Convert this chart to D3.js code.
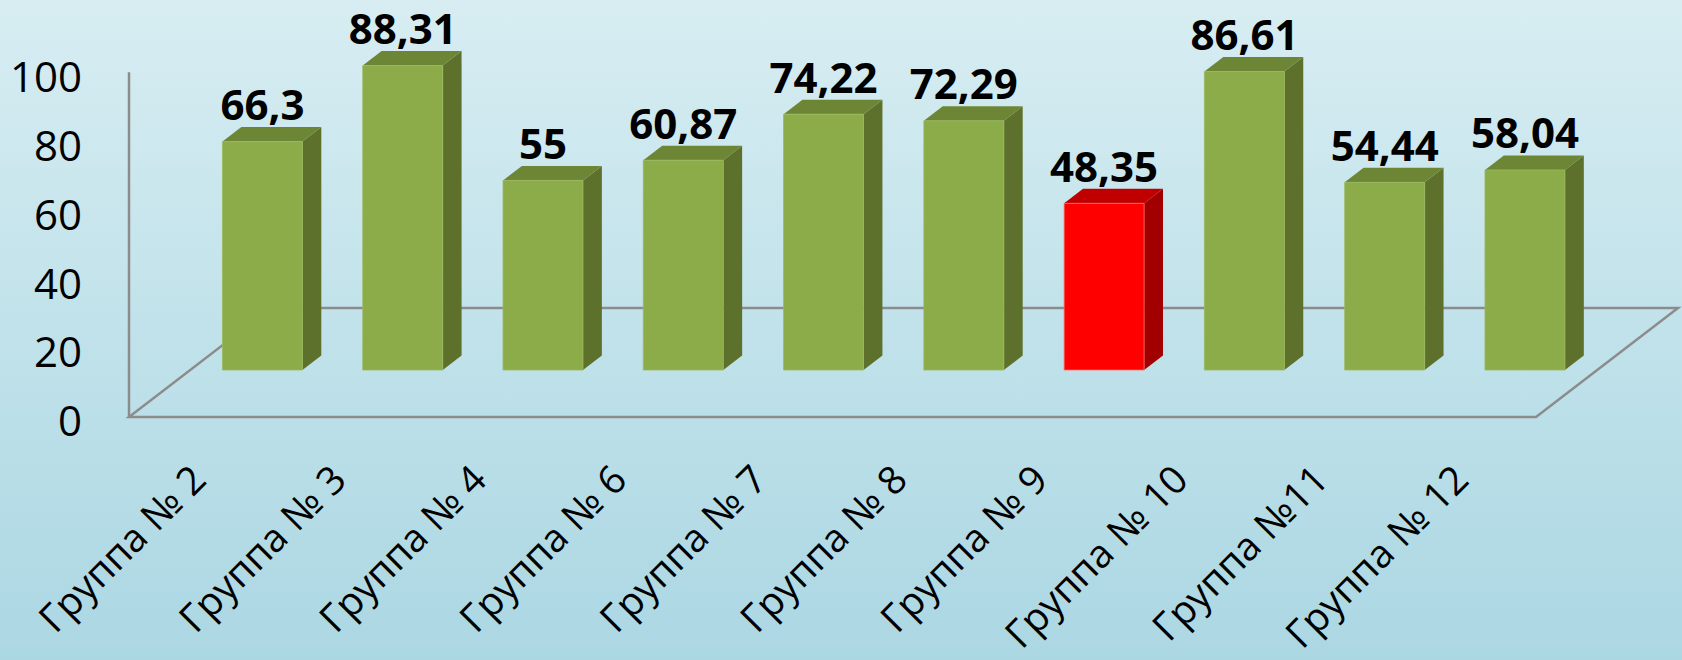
<!DOCTYPE html>
<html>
<head>
<meta charset="utf-8">
<script src="https://cdn.jsdelivr.net/npm/d3@7"></script>
<style>
    html, body {
        margin: 0;
        padding: 0;
        overflow: hidden;
    }

    svg {
        display: block;
        font-family: "Open Sans", sans-serif;
    }
</style>
</head>
<body>
<svg id="chart" width="1682" height="660"></svg>
<script>
    // data
    let categories = ["Группа № 2", "Группа № 3", "Группа № 4", "Группа № 6", "Группа № 7",
        "Группа № 8", "Группа № 9", "Группа № 10", "Группа №11", "Группа № 12"];
    let values = [66.3, 88.31, 55, 60.87, 74.22, 72.29, 48.35, 86.61, 54.44, 58.04];
    let highlighted = ["Группа № 9"];
    let yTicks = [0, 20, 40, 60, 80, 100];

    let width = 1682, height = 660;

    // floor of the 3d box: front edge + depth vector going back
    let floorY = 417;
    let depth = {x: 142, y: -109};
    let barZ0 = 0.431, barZ1 = 0.564;

    let svg = d3.select("#chart");

    let grad = svg.append("defs").append("linearGradient")
        .attr("id", "bg").attr("x1", 0).attr("y1", 0).attr("x2", 0).attr("y2", 1);
    grad.append("stop").attr("offset", "0%").attr("stop-color", "#d7edf2");
    grad.append("stop").attr("offset", "100%").attr("stop-color", "#abd7e3");

    svg.append("rect")
        .attr("width", width).attr("height", height)
        .attr("fill", "url(#bg)");

    let x = d3.scaleBand()
        .domain(categories)
        .range([129, 1536])
        .paddingInner(0.43)
        .paddingOuter(0.23);

    let y = d3.scaleLinear()
        .domain([0, 100])
        .range([floorY, 72.3]);

    // screen position of a point at pixel column px, value v and depth z (0 front .. 1 back)
    let project = (px, v, z) => [px + z * depth.x, y(v) + z * depth.y];

    let lines = svg.append("g")
        .attr("fill", "none")
        .attr("stroke", "#8c8c8c")
        .attr("stroke-width", 2.5);

    let x0 = x.range()[0], x1 = x.range()[1];
    let floor = [project(x0, 0, 0), project(x1, 0, 0), project(x1, 0, 1), project(x0, 0, 1)];
    lines.append("path").attr("d", d3.line()(floor) + "Z");
    lines.append("line")
        .attr("x1", x0).attr("y1", y(0))
        .attr("x2", x0).attr("y2", y(100));

    // y axis labels only, no line or ticks
    let yAxis = svg.append("g")
        .attr("transform", `translate(${x0},0)`)
        .call(d3.axisLeft(y).tickValues(yTicks).tickSize(0).tickPadding(47));
    yAxis.select(".domain").remove();
    yAxis.selectAll("text")
        .attr("dy", "0.45em")
        .attr("font-family", "Open Sans")
        .attr("font-size", 42)
        .attr("fill", "#000");

    let colors = {
        normal: {front: "#8bac48", top: "#6c8636", side: "#5d712d", edge: "#9ab95a"},
        hot: {front: "#ff0000", top: "#c00000", side: "#a20000", edge: "#ff6a6a"}
    };

    let data = categories.map((c, i) => ({name: c, value: values[i]}));

    let bars = svg.append("g")
        .selectAll("g")
        .data(data)
        .enter()
        .append("g");

    bars.each(function (d) {
        let g = d3.select(this);
        let c = highlighted.includes(d.name) ? colors.hot : colors.normal;
        let l = x(d.name), r = x(d.name) + x.bandwidth();

        let side = [project(r, 0, barZ0), project(r, 0, barZ1), project(r, d.value, barZ1), project(r, d.value, barZ0)];
        let top = [project(l, d.value, barZ0), project(l, d.value, barZ1), project(r, d.value, barZ1), project(r, d.value, barZ0)];
        let front = [project(l, 0, barZ0), project(r, 0, barZ0), project(r, d.value, barZ0), project(l, d.value, barZ0)];

        g.append("path").attr("d", d3.line()(side) + "Z").attr("fill", c.side);
        g.append("path").attr("d", d3.line()(top) + "Z").attr("fill", c.top);
        g.append("path").attr("d", d3.line()(front) + "Z")
            .attr("fill", c.front)
            .attr("stroke", c.edge).attr("stroke-width", 0.8);
    });

    // value labels above each bar
    svg.append("g")
        .selectAll("text")
        .data(data)
        .enter()
        .append("text")
        .attr("x", d => project(x(d.name) + x.bandwidth() / 2, d.value, barZ0)[0])
        .attr("y", d => project(0, d.value, barZ1)[1] - 7)
        .attr("text-anchor", "middle")
        .attr("font-size", 42)
        .attr("font-weight", "bold")
        .attr("fill", "#000")
        .text(d => String(d.value).replace(".", ","));

    // category labels, turned 45 degrees
    svg.append("g")
        .selectAll("text")
        .data(categories)
        .enter()
        .append("text")
        .attr("transform", c => `translate(${x(c) + x.bandwidth() / 2 + 7},482) rotate(-45)`)
        .attr("text-anchor", "end")
        .attr("font-size", 39)
        .attr("fill", "#000")
        .text(c => c);
</script>
</body>
</html>
